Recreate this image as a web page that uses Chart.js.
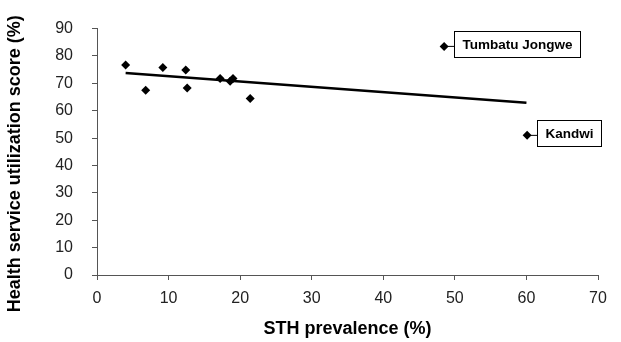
<!DOCTYPE html>
<html>
<head>
<meta charset="utf-8">
<script src="https://cdn.jsdelivr.net/npm/chart.js@4.4.1/dist/chart.umd.min.js"></script>
<style>
html,body{margin:0;padding:0;background:#fff;}
#wrap{width:621px;height:342px;position:relative;}
</style>
</head>
<body>
<div id="wrap"><canvas id="c" width="621" height="342"></canvas></div>
<script>
// STH prevalence (%) per site
const prevalence = [4.0, 6.8, 9.2, 12.4, 12.6, 17.2, 18.6, 19.0, 21.4, 48.5, 60.1];
// Health service utilization score (%) per site
const utilization = [76.7, 67.5, 75.8, 74.9, 68.3, 71.8, 70.8, 71.8, 64.5, 83.5, 51.0];
// labelled outlier sites (index into the arrays above)
const siteLabels = [
  {index: 9, text: 'Tumbatu Jongwe'},
  {index: 10, text: 'Kandwi'}
];
// fitted trend line end points
const trendX = [4.0, 60.0];
const trendY = [73.8, 62.9];
const xTicks = [0, 10, 20, 30, 40, 50, 60, 70];
const yTicks = [0, 10, 20, 30, 40, 50, 60, 70, 80, 90];
const xTitle = 'STH prevalence (%)';
const yTitle = 'Health service utilization score (%)';

const FONT = '"Liberation Sans", Arial, sans-serif';
const points = prevalence.map((x, i) => ({x: x, y: utilization[i]}));
const trend = trendX.map((x, i) => ({x: x, y: trendY[i]}));

const labelPlugin = {
  id: 'siteLabels',
  afterDatasetsDraw(chart) {
    const ctx = chart.ctx;
    const xs = chart.scales.x, ys = chart.scales.y;
    ctx.save();
    ctx.font = 'bold 13.5px ' + FONT;
    ctx.textBaseline = 'middle';
    siteLabels.forEach(l => {
      const px = xs.getPixelForValue(prevalence[l.index]);
      const py = ys.getPixelForValue(utilization[l.index]);
      const gap = 10;
      const padX = 8;
      const w = Math.round(ctx.measureText(l.text).width + padX * 2);
      const h = 26;
      const bx = Math.round(px + gap) + 0.5;
      const by = Math.round(py - h / 2 - 2) + 0.5;
      ctx.strokeStyle = '#000';
      ctx.lineWidth = 1;
      ctx.beginPath();
      ctx.moveTo(px, py);
      ctx.lineTo(bx, py);
      ctx.stroke();
      ctx.fillStyle = '#fff';
      ctx.fillRect(bx, by, w, h);
      ctx.strokeRect(bx, by, w, h);
      ctx.fillStyle = '#000';
      ctx.fillText(l.text, bx + padX, by + h / 2 + 0.5);
    });
    // y axis title, placed like the reference (slightly below axis centre)
    ctx.font = 'bold 18px ' + FONT;
    ctx.textAlign = 'center';
    ctx.translate(15, (ys.top + ys.bottom) / 2 + 12);
    ctx.rotate(-Math.PI / 2);
    ctx.fillText(yTitle, 0, 0);
    ctx.restore();
  }
};

new Chart(document.getElementById('c'), {
  type: 'scatter',
  data: {
    datasets: [
      {
        data: trend,
        showLine: true,
        borderColor: '#000',
        borderWidth: 2.5,
        pointRadius: 0,
        fill: false,
        order: 2
      },
      {
        data: points,
        pointStyle: 'rectRot',
        pointRadius: 4.5,
        pointBackgroundColor: '#000',
        pointBorderColor: '#000',
        pointBorderWidth: 0,
        showLine: false,
        order: 1
      }
    ]
  },
  options: {
    responsive: false,
    animation: false,
    layout: {padding: {left: 0, right: 23, top: 27, bottom: 0}},
    plugins: {legend: {display: false}, tooltip: {enabled: false}},
    scales: {
      x: {
        type: 'linear',
        min: 0, max: 70,
        afterBuildTicks: s => { s.ticks = xTicks.map(v => ({value: v})); },
        afterFit: s => { s.height = 67; },
        ticks: {font: {size: 16, family: FONT}, color: '#222', padding: 9, maxRotation: 0},
        grid: {drawOnChartArea: false, drawTicks: true, tickLength: 5, color: '#555'},
        border: {color: '#555', width: 1},
        title: {display: true, text: xTitle, font: {size: 18, weight: 'bold', family: FONT}, color: '#000', padding: {top: 4, bottom: 2}}
      },
      y: {
        type: 'linear',
        min: 0, max: 90,
        afterBuildTicks: s => { s.ticks = yTicks.map(v => ({value: v})); },
        afterFit: s => { s.width = 97; },
        ticks: {font: {size: 16, family: FONT}, color: '#222', padding: 19},
        grid: {drawOnChartArea: false, drawTicks: true, tickLength: 5, color: '#555'},
        border: {color: '#555', width: 1},
        title: {display: false}
      }
    }
  },
  plugins: [labelPlugin]
});
</script>
</body>
</html>
